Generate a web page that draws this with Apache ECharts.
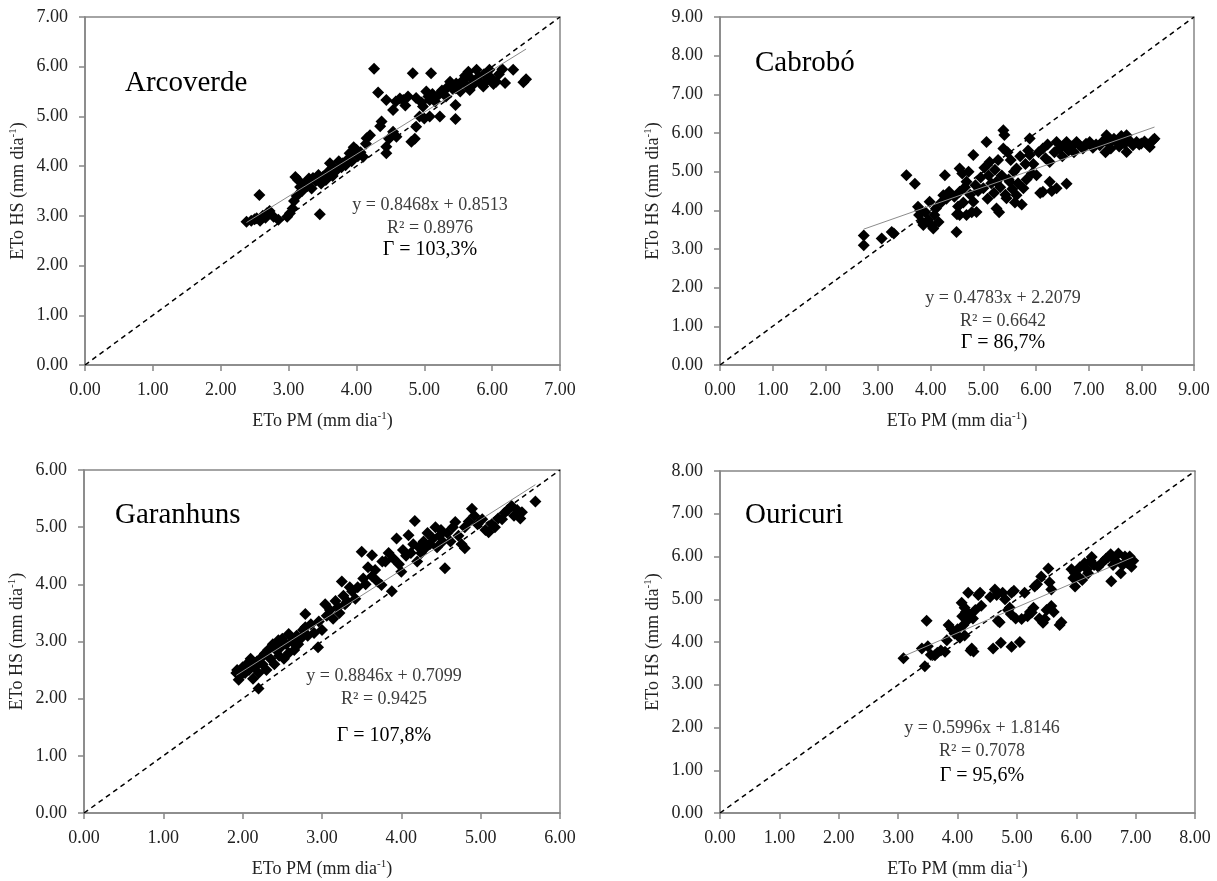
<!DOCTYPE html>
<html>
<head>
<meta charset="utf-8">
<script src="https://cdn.jsdelivr.net/npm/echarts@6/dist/echarts.min.js"></script>
<style>
  html, body { margin: 0; padding: 0; background: #fff; }
  #chart { width: 1217px; height: 881px; }
</style>
</head>
<body>
<div id="chart"></div>
<script>
// station names, axis maxima, regression results
const stations = ["Arcoverde", "Cabrobó", "Garanhuns", "Ouricuri"];
const axisMax = [7, 9, 6, 8];
const slopes = [0.8468, 0.4783, 0.8846, 0.5996];
const intercepts = [0.8513, 2.2079, 0.7099, 1.8146];
const r2Text = ["0.8976", "0.6642", "0.9425", "0.7078"];
const gammaText = ["103,3%", "86,7%", "107,8%", "95,6%"];

// [ETo PM, ETo HS] pairs
const arcoverde = [
  [2.38,2.88],[2.45,2.90],[2.50,2.93],[2.53,2.95],[2.57,3.42],[2.58,2.90],[2.62,3.00],[2.66,2.96],
  [2.68,3.05],[2.72,3.10],[2.78,2.98],[2.85,2.92],[2.98,2.98],[3.02,3.05],[3.06,3.15],[3.08,3.30],
  [3.10,3.78],[3.14,3.72],[3.12,3.40],[3.17,3.58],[3.20,3.50],[3.24,3.65],[3.28,3.60],[3.30,3.75],
  [3.34,3.55],[3.36,3.76],[3.40,3.70],[3.44,3.82],[3.46,3.03],[3.48,3.65],[3.51,3.79],[3.55,3.72],
  [3.58,3.88],[3.61,3.86],[3.61,4.06],[3.65,3.80],[3.68,3.95],[3.71,3.92],[3.74,4.10],[3.78,3.98],
  [3.80,4.06],[3.84,4.02],[3.88,4.15],[3.90,4.26],[3.93,4.10],[3.96,4.38],[4.00,4.33],[4.02,4.20],
  [4.06,4.28],[4.10,4.19],[4.14,4.45],[4.15,4.56],[4.20,4.62],[4.26,5.96],[4.32,5.48],[4.37,4.90],
  [4.35,4.80],[4.44,4.39],[4.44,4.26],[4.44,5.33],[4.48,4.55],[4.54,4.69],[4.54,5.13],[4.58,5.30],
  [4.59,4.59],[4.64,5.36],[4.69,5.33],[4.72,5.22],[4.76,5.40],[4.81,4.49],[4.83,5.87],[4.86,4.55],
  [4.88,5.37],[4.88,4.79],[4.93,5.00],[4.96,5.28],[4.98,5.20],[5.00,4.96],[5.03,5.50],[5.06,5.40],
  [5.08,5.33],[5.08,5.00],[5.10,5.87],[5.12,5.45],[5.16,5.30],[5.20,5.42],[5.23,5.00],[5.26,5.52],
  [5.28,5.50],[5.32,5.40],[5.35,5.60],[5.38,5.70],[5.42,5.55],[5.46,4.95],[5.46,5.23],[5.47,5.66],
  [5.50,5.62],[5.53,5.50],[5.57,5.73],[5.60,5.82],[5.62,5.62],[5.65,5.90],[5.67,5.53],[5.70,5.75],
  [5.73,5.65],[5.77,5.94],[5.80,5.80],[5.82,5.68],[5.87,5.60],[5.88,5.85],[5.92,5.72],[5.96,5.94],
  [5.98,5.78],[6.02,5.65],[6.06,5.70],[6.10,5.85],[6.15,5.95],[6.19,5.67],[6.31,5.94],[6.46,5.69],
  [6.50,5.75]
];
const cabrobo = [
  [2.73,3.35],[2.73,3.10],[3.07,3.27],[3.26,3.44],[3.30,3.40],[3.54,4.91],[3.70,4.69],[3.76,4.09],
  [3.78,3.88],[3.80,4.00],[3.84,3.70],[3.86,3.62],[3.90,3.95],[3.95,3.75],[3.98,4.22],[4.02,3.60],
  [4.05,3.53],[4.07,3.88],[4.10,4.05],[4.15,3.70],[4.20,4.20],[4.24,4.39],[4.27,4.91],[4.30,4.30],
  [4.35,4.48],[4.38,4.40],[4.45,4.35],[4.49,3.44],[4.50,3.90],[4.52,4.10],[4.55,4.48],[4.55,5.08],
  [4.55,3.88],[4.60,4.95],[4.62,4.20],[4.65,4.60],[4.68,4.74],[4.68,3.88],[4.72,5.00],[4.75,4.40],
  [4.78,3.95],[4.81,5.43],[4.81,4.22],[4.85,4.65],[4.87,3.96],[4.90,4.50],[4.95,4.85],[5.00,4.57],
  [5.02,5.10],[5.06,5.77],[5.08,4.30],[5.10,4.90],[5.12,5.25],[5.15,4.70],[5.20,4.45],[5.22,5.05],
  [5.25,4.74],[5.25,4.05],[5.28,5.30],[5.30,3.95],[5.32,4.60],[5.35,4.90],[5.38,6.07],[5.38,5.60],
  [5.40,5.95],[5.42,4.40],[5.44,4.31],[5.46,5.50],[5.48,4.80],[5.50,4.74],[5.52,5.30],[5.55,4.55],
  [5.58,5.00],[5.60,4.20],[5.63,5.08],[5.63,4.39],[5.66,4.70],[5.70,5.40],[5.73,4.15],[5.76,4.57],
  [5.80,5.20],[5.82,4.80],[5.85,5.55],[5.88,5.86],[5.88,5.43],[5.92,4.95],[5.95,5.20],[6.01,4.91],
  [6.05,5.50],[6.08,4.45],[6.13,5.60],[6.13,4.48],[6.18,5.35],[6.22,5.70],[6.26,5.25],[6.26,4.74],
  [6.30,4.50],[6.35,5.50],[6.39,5.77],[6.39,4.57],[6.45,5.60],[6.50,5.40],[6.55,5.70],[6.58,5.77],
  [6.58,4.69],[6.62,5.55],[6.68,5.65],[6.72,5.50],[6.77,5.77],[6.82,5.68],[6.89,5.60],[6.95,5.72],
  [7.02,5.77],[7.08,5.62],[7.14,5.70],[7.21,5.68],[7.28,5.80],[7.32,5.50],[7.34,5.94],[7.38,5.72],
  [7.42,5.60],[7.48,5.85],[7.53,5.77],[7.58,5.65],[7.62,5.92],[7.68,5.72],[7.72,5.94],[7.72,5.51],
  [7.78,5.80],[7.84,5.68],[7.91,5.77],[7.96,5.70],[8.00,5.73],[8.06,5.78],[8.12,5.70],[8.16,5.64],
  [8.22,5.81],[8.25,5.85]
];
const garanhuns = [
  [1.92,2.45],[1.93,2.50],[1.95,2.33],[1.97,2.40],[2.00,2.55],[2.03,2.45],[2.05,2.60],[2.08,2.50],
  [2.10,2.70],[2.11,2.61],[2.13,2.35],[2.15,2.55],[2.18,2.65],[2.20,2.18],[2.20,2.45],[2.22,2.70],
  [2.25,2.60],[2.28,2.79],[2.30,2.50],[2.32,2.85],[2.35,2.70],[2.38,2.95],[2.40,2.60],[2.42,2.85],
  [2.45,3.02],[2.46,2.75],[2.48,2.90],[2.50,3.05],[2.52,2.70],[2.55,2.95],[2.58,3.13],[2.58,2.80],
  [2.62,3.00],[2.65,2.85],[2.68,3.10],[2.70,2.95],[2.73,3.05],[2.76,3.20],[2.79,3.48],[2.79,3.25],
  [2.82,3.10],[2.86,3.30],[2.90,3.15],[2.95,2.90],[2.96,3.35],[3.00,3.20],[3.04,3.65],[3.06,3.45],
  [3.10,3.55],[3.14,3.40],[3.17,3.71],[3.20,3.60],[3.22,3.50],[3.25,4.05],[3.27,3.80],[3.29,3.65],
  [3.32,3.70],[3.35,3.95],[3.38,3.88],[3.42,3.75],[3.45,3.95],[3.50,4.57],[3.52,4.10],[3.55,4.00],
  [3.58,4.30],[3.63,4.51],[3.63,4.14],[3.67,4.25],[3.70,4.05],[3.75,3.99],[3.76,4.40],[3.80,4.40],
  [3.84,4.55],[3.88,3.88],[3.90,4.45],[3.94,4.80],[3.97,4.35],[4.00,4.22],[4.02,4.60],[4.06,4.50],
  [4.09,4.86],[4.12,4.55],[4.15,4.70],[4.17,5.11],[4.20,4.40],[4.22,4.65],[4.25,4.55],[4.28,4.75],
  [4.30,4.63],[4.33,4.90],[4.36,4.70],[4.40,4.80],[4.43,5.00],[4.45,4.65],[4.48,4.85],[4.50,4.95],
  [4.52,4.75],[4.55,4.28],[4.58,4.90],[4.62,4.75],[4.65,5.00],[4.68,5.09],[4.72,4.85],[4.76,4.70],
  [4.80,4.63],[4.80,5.00],[4.85,5.10],[4.89,5.32],[4.92,5.20],[4.96,5.05],[5.02,5.14],[5.06,4.95],
  [5.10,4.91],[5.14,5.05],[5.18,5.00],[5.22,5.15],[5.27,5.14],[5.30,5.25],[5.34,5.30],[5.39,5.37],
  [5.42,5.20],[5.46,5.30],[5.50,5.15],[5.52,5.26],[5.69,5.45]
];
const ouricuri = [
  [3.09,3.62],[3.40,3.85],[3.45,3.43],[3.48,4.50],[3.50,3.90],[3.55,3.70],[3.62,3.69],[3.66,3.75],
  [3.72,3.80],[3.79,3.77],[3.82,4.04],[3.85,4.40],[3.90,4.30],[3.95,4.20],[4.00,4.30],[4.04,4.10],
  [4.07,4.92],[4.08,4.60],[4.10,4.40],[4.12,4.80],[4.12,4.15],[4.14,4.70],[4.16,4.50],[4.18,5.15],
  [4.20,4.65],[4.22,3.80],[4.24,3.85],[4.26,4.55],[4.27,3.78],[4.30,4.75],[4.35,5.10],[4.38,5.15],
  [4.40,4.85],[4.55,5.05],[4.60,3.85],[4.63,5.23],[4.66,5.10],[4.68,4.50],[4.71,4.46],[4.73,3.98],
  [4.76,5.15],[4.80,5.00],[4.85,4.75],[4.88,4.80],[4.90,4.65],[4.91,5.15],[4.91,3.89],[4.95,5.20],
  [4.98,4.55],[5.05,4.00],[5.08,4.54],[5.13,5.15],[5.18,4.60],[5.22,4.70],[5.25,4.69],[5.28,4.80],
  [5.30,5.30],[5.34,5.35],[5.38,4.55],[5.41,5.53],[5.44,4.45],[5.47,4.54],[5.50,4.75],[5.53,5.72],
  [5.55,5.40],[5.58,5.23],[5.58,4.84],[5.62,4.70],[5.72,4.40],[5.75,4.46],[5.92,5.70],[5.95,5.50],
  [5.98,5.61],[5.98,5.30],[6.02,5.55],[6.06,5.75],[6.10,5.45],[6.14,5.84],[6.18,5.70],[6.20,5.61],
  [6.24,5.90],[6.26,5.99],[6.30,5.80],[6.37,5.76],[6.45,5.88],[6.50,5.95],[6.54,5.99],[6.58,6.05],
  [6.59,5.42],[6.62,5.80],[6.66,5.90],[6.71,6.07],[6.75,5.61],[6.78,5.80],[6.82,6.00],[6.86,5.85],
  [6.90,6.00],[6.93,5.76],[6.96,5.90]
];
const stationData = [arcoverde, cabrobo, garanhuns, ouricuri];

const serif = '"Liberation Serif", "Times New Roman", serif';
const frame = "#868686";

// pixel boxes of the four plot areas
const grids = [
  { left: 85, top: 17, width: 475, height: 348 },
  { left: 720, top: 17, width: 474, height: 348 },
  { left: 84, top: 470, width: 476, height: 348 },
  { left: 720, top: 471, width: 475, height: 348 }
];
// where the station name and the equation block sit
const nameAt = [[125, 83], [755, 63], [115, 515], [745, 515]];
const eqAt = [[430, 205, 228, 250], [1003, 298, 321, 343], [384, 676, 699, 736], [982, 728, 751, 776]];

const chart = echarts.init(document.getElementById("chart"));

const axisCommon = (i, isX) => ({
  type: "value",
  gridIndex: i,
  min: 0,
  max: axisMax[i],
  interval: 1,
  name: isX ? "ETo PM (mm dia{s|-1})" : "ETo HS (mm dia{s|-1})",
  nameLocation: "middle",
  nameGap: isX ? 46 : 56,
  nameRotate: isX ? 0 : 90,
  nameTextStyle: {
    fontFamily: serif, fontSize: 18, color: "#222", lineHeight: 21,
    rich: { s: { fontFamily: serif, fontSize: 11, color: "#222", verticalAlign: "top", lineHeight: 21 } }
  },
  axisLine: { show: true, lineStyle: { color: frame, width: 1.5 } },
  axisTick: { show: true, inside: false, length: 6, lineStyle: { color: frame, width: 1.5 } },
  axisLabel: {
    fontFamily: serif, fontSize: 18, color: "#222",
    margin: isX ? 16 : 17,
    formatter: (v) => v.toFixed(2)
  },
  splitLine: { show: false }
});

const series = [];
stationData.forEach((pts, i) => {
  const xs = pts.map((p) => p[0]);
  const x0 = Math.min(...xs);
  const x1 = Math.max(...xs);
  series.push({
    type: "scatter",
    xAxisIndex: i,
    yAxisIndex: i,
    data: pts,
    symbol: "diamond",
    symbolSize: 12,
    itemStyle: { color: "#000", opacity: 1 },
    silent: true
  });
  series.push({
    type: "line",
    xAxisIndex: i,
    yAxisIndex: i,
    data: [[0, 0], [axisMax[i], axisMax[i]]],
    symbol: "none",
    lineStyle: { color: "#000", width: 1.5, type: [5, 4] },
    silent: true
  });
  series.push({
    type: "line",
    xAxisIndex: i,
    yAxisIndex: i,
    data: [[x0, slopes[i] * x0 + intercepts[i]], [x1, slopes[i] * x1 + intercepts[i]]],
    symbol: "none",
    lineStyle: { color: "#8c8c8c", width: 1 },
    silent: true
  });
});

const graphics = [];
stations.forEach((s, i) => {
  graphics.push({
    type: "text", x: nameAt[i][0], y: nameAt[i][1],
    style: { text: s, font: "29px " + serif, fill: "#000", textAlign: "left", textVerticalAlign: "middle" }
  });
  const [cx, y1, y2, y3] = eqAt[i];
  graphics.push({
    type: "text", x: cx, y: y1,
    style: { text: "y = " + slopes[i].toFixed(4) + "x + " + intercepts[i].toFixed(4), font: "18px " + serif, fill: "#3c3c3c", textAlign: "center", textVerticalAlign: "middle" }
  });
  graphics.push({
    type: "text", x: cx, y: y2,
    style: { text: "R² = " + r2Text[i], font: "18px " + serif, fill: "#3c3c3c", textAlign: "center", textVerticalAlign: "middle" }
  });
  graphics.push({
    type: "text", x: cx, y: y3,
    style: { text: "Γ = " + gammaText[i], font: "20px " + serif, fill: "#000", textAlign: "center", textVerticalAlign: "middle" }
  });
});

chart.setOption({
  animation: false,
  backgroundColor: "#fff",
  grid: grids.map((g) => Object.assign({ show: true, borderColor: frame, borderWidth: 1.5, backgroundColor: "#fff" }, g)),
  xAxis: [0, 1, 2, 3].map((i) => axisCommon(i, true)),
  yAxis: [0, 1, 2, 3].map((i) => axisCommon(i, false)),
  series: series,
  graphic: graphics
});
</script>
</body>
</html>
